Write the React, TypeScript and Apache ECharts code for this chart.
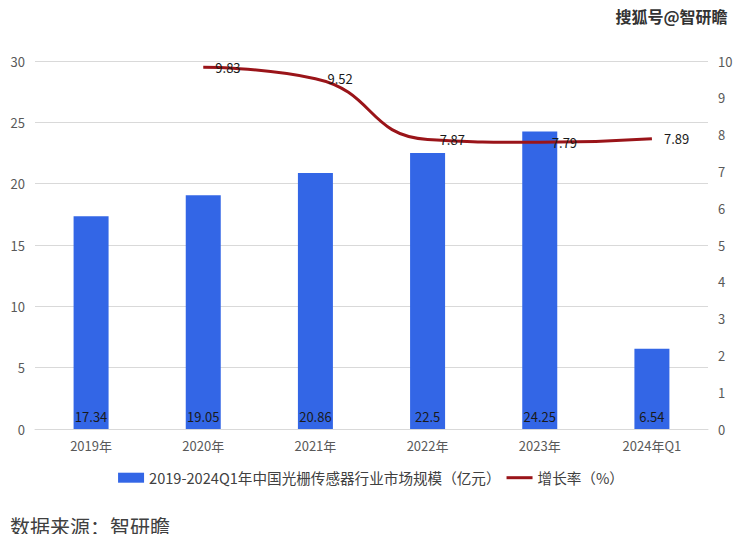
import React, { useEffect, useRef } from "react";
import * as echarts from "echarts";

const categories = ["2019年", "2020年", "2021年", "2022年", "2023年", "2024年Q1"];
const marketSize = [17.34, 19.05, 20.86, 22.5, 24.25, 6.54];
const growthRate: (number | string)[] = ["-", 9.83, 9.52, 7.87, 7.79, 7.89];
const barName = "2019-2024Q1年中国光栅传感器行业市场规模（亿元）";
const lineName = "增长率（%）";

const FONT = "'Noto Sans CJK SC', 'Noto Sans', sans-serif";

export default function App() {
  const ref = useRef<HTMLDivElement>(null);
  useEffect(() => {
    if (!ref.current) return;
    const chart = echarts.init(ref.current, undefined, { renderer: "svg" });
    chart.setOption({
      animation: false,
      backgroundColor: "#ffffff",
      textStyle: { fontFamily: FONT },
      grid: { left: 35, right: 34, top: 61, bottom: 113, containLabel: false },
      legend: {
        bottom: 52,
        left: "center",
        itemGap: 6,
        itemWidth: 26,
        itemHeight: 10,
        textStyle: { fontSize: 14.6, color: "#404040", fontFamily: FONT },
        data: [
          { name: barName, icon: "rect" },
          { name: lineName, icon: "path://M0,4 L26,4 L26,7 L0,7 Z" },
        ],
      },
      graphic: [
        {
          type: "text",
          right: 14,
          top: 7,
          style: {
            text: "搜狐号@智研瞻",
            fontSize: 16,
            fontWeight: "bold",
            fill: "#333333",
            stroke: "#ffffff",
            lineWidth: 1,
            fontFamily: FONT,
          },
        },
        {
          type: "text",
          left: 10,
          bottom: 6,
          style: {
            text: "数据来源：智研瞻",
            fontSize: 20,
            fill: "#404040",
            fontFamily: FONT,
          },
        },
      ],
      xAxis: {
        type: "category",
        data: categories,
        axisLine: { show: true, lineStyle: { color: "#d9d9d9" } },
        axisTick: { show: false },
        axisLabel: { color: "#595959", fontSize: 13, margin: 10, fontFamily: FONT },
      },
      yAxis: [
        {
          type: "value",
          min: 0,
          max: 30,
          interval: 5,
          axisLine: { show: false },
          axisTick: { show: false },
          axisLabel: { color: "#595959", fontSize: 13, margin: 10, fontFamily: FONT },
          splitLine: { lineStyle: { color: "#d9d9d9" } },
        },
        {
          type: "value",
          min: 0,
          max: 10,
          interval: 1,
          axisLine: { show: false },
          axisTick: { show: false },
          axisLabel: { color: "#595959", fontSize: 13, margin: 10, fontFamily: FONT },
          splitLine: { show: false },
        },
      ],
      series: [
        {
          name: barName,
          type: "bar",
          data: marketSize,
          barWidth: 35,
          itemStyle: { color: "#3366E6" },
          label: {
            show: true,
            position: "insideBottom",
            distance: 6,
            color: "#1a1a1a",
            fontSize: 13,
            fontFamily: FONT,
          },
        },
        {
          name: lineName,
          type: "line",
          yAxisIndex: 1,
          data: growthRate,
          smooth: 0.5,
          showSymbol: true,
          symbol: "circle",
          symbolSize: 0.1,
          lineStyle: { color: "#9A1419", width: 3 },
          itemStyle: { color: "#9A1419" },
          label: {
            show: true,
            position: "right",
            distance: 12,
            color: "#1a1a1a",
            fontSize: 13,
            fontFamily: FONT,
          },
        },
      ],
    });
    return () => chart.dispose();
  }, []);
  return <div ref={ref} style={{ width: 742, height: 542, margin: -8 }} />;
}
